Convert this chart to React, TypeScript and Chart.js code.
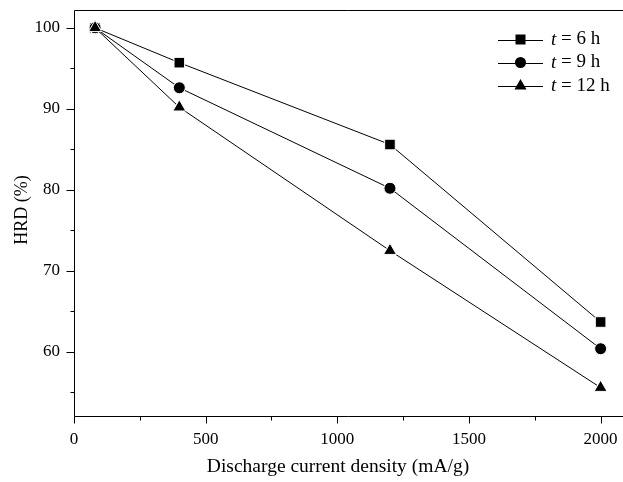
import React, { useEffect, useRef } from 'react';
import { Chart, registerables } from 'chart.js';

Chart.register(...registerables);

const currentDensity = [80, 400, 1200, 2000];
const hrd6h = [100, 95.7, 85.6, 63.7];
const hrd9h = [100, 92.6, 80.2, 60.4];
const hrd12h = [100, 90.2, 72.5, 55.6];
const seriesHours = ['6', '9', '12'];
const xMajorTicks = [0, 500, 1000, 1500, 2000];
const xMinorTicks = [250, 750, 1250, 1750];
const yMajorTicks = [60, 70, 80, 90, 100];
const yMinorTicks = [55, 65, 75, 85, 95];
const xTitle = 'Discharge current density (mA/g)';
const yTitle = 'HRD (%)';

const FONT = '"Liberation Serif", "Times New Roman", serif';
const pointStyles = ['rect', 'circle', 'triangle'];

function drawMarker(ctx: CanvasRenderingContext2D, style: string, x: number, y: number) {
  ctx.beginPath();
  if (style === 'rect') {
    ctx.rect(x - 5, y - 5, 10, 10);
  } else if (style === 'circle') {
    ctx.arc(x, y, 5.5, 0, Math.PI * 2);
  } else {
    const r = 7;
    ctx.moveTo(x, y - r);
    ctx.lineTo(x + r * Math.sin((2 * Math.PI) / 3), y - r * Math.cos((2 * Math.PI) / 3));
    ctx.lineTo(x + r * Math.sin((4 * Math.PI) / 3), y - r * Math.cos((4 * Math.PI) / 3));
    ctx.closePath();
  }
  ctx.fill();
}

const decorPlugin = {
  id: 'decor',
  afterDraw(chart: any) {
    const { ctx, chartArea: ca, scales } = chart;
    const x = scales.x;
    const y = scales.y;
    ctx.save();
    ctx.strokeStyle = '#000';
    ctx.fillStyle = '#000';
    ctx.lineWidth = 1;
    // frame: top, left, bottom
    ctx.beginPath();
    ctx.moveTo(Math.round(ca.left) + 0.5, Math.round(ca.top) + 0.5);
    ctx.lineTo(chart.width, Math.round(ca.top) + 0.5);
    ctx.moveTo(Math.round(ca.left) + 0.5, Math.round(ca.top) + 0.5);
    ctx.lineTo(Math.round(ca.left) + 0.5, Math.round(ca.bottom) + 0.5);
    ctx.lineTo(chart.width, Math.round(ca.bottom) + 0.5);
    ctx.stroke();
    // ticks
    ctx.beginPath();
    const bottom = Math.round(ca.bottom) + 0.5;
    xMajorTicks.forEach((v) => {
      const px = Math.round(x.getPixelForValue(v)) + 0.5;
      ctx.moveTo(px, bottom);
      ctx.lineTo(px, bottom + 7);
    });
    xMinorTicks.forEach((v) => {
      const px = Math.round(x.getPixelForValue(v)) + 0.5;
      ctx.moveTo(px, bottom);
      ctx.lineTo(px, bottom + 4);
    });
    const left = Math.round(ca.left) + 0.5;
    yMajorTicks.forEach((v) => {
      const py = Math.round(y.getPixelForValue(v)) + 0.5;
      ctx.moveTo(left, py);
      ctx.lineTo(left - 8, py);
    });
    yMinorTicks.forEach((v) => {
      const py = Math.round(y.getPixelForValue(v)) + 0.5;
      ctx.moveTo(left, py);
      ctx.lineTo(left - 4, py);
    });
    ctx.stroke();

    // axis titles
    ctx.textAlign = 'center';
    ctx.textBaseline = 'middle';
    ctx.font = `19.5px ${FONT}`;
    ctx.fillText(xTitle, 338, 467);
    ctx.font = `18px ${FONT}`;
    ctx.save();
    ctx.translate(22, (ca.top + ca.bottom) / 2 - 3);
    ctx.rotate(-Math.PI / 2);
    ctx.fillText(yTitle, 0, 0);
    ctx.restore();

    // legend
    const rows = [39.5, 62.5, 86];
    seriesHours.forEach((h, i) => {
      const ry = rows[i];
      ctx.beginPath();
      ctx.moveTo(498, Math.round(ry) + 0.5);
      ctx.lineTo(543, Math.round(ry) + 0.5);
      ctx.stroke();
      drawMarker(ctx, pointStyles[i], 520.5, ry);
      ctx.textAlign = 'left';
      ctx.textBaseline = 'middle';
      ctx.font = `italic 19px ${FONT}`;
      ctx.fillText('t', 551, ry);
      const tw = ctx.measureText('t').width;
      ctx.font = `19px ${FONT}`;
      ctx.fillText(` = ${h} h`, 551 + tw, ry);
    });
    ctx.restore();
  },
};

export default function App() {
  const ref = useRef<HTMLCanvasElement | null>(null);
  useEffect(() => {
    document.body.style.margin = '0';
    const canvas = ref.current;
    if (!canvas) return;
    const mk = (data: number[], i: number, r: number) => ({
      label: `t = ${seriesHours[i]} h`,
      data: currentDensity.map((xv, k) => ({ x: xv, y: data[k] })),
      borderColor: '#000',
      backgroundColor: '#000',
      borderWidth: 1,
      pointStyle: pointStyles[i],
      pointRadius: r,
      pointBackgroundColor: '#000',
      pointBorderColor: '#fff',
      pointBorderWidth: 1,
      order: 2 - i,
    });
    const chart = new Chart(canvas, {
      type: 'line',
      data: {
        datasets: [mk(hrd6h, 0, 7.5), mk(hrd9h, 1, 6), mk(hrd12h, 2, 7.5)],
      },
      options: {
        animation: false,
        responsive: false,
        devicePixelRatio: 1,
        layout: { autoPadding: false, padding: { top: 10, left: 0, right: 0, bottom: 0 } },
        plugins: { legend: { display: false }, tooltip: { enabled: false } },
        scales: {
          x: {
            type: 'linear',
            min: 0,
            max: 2085,
            grid: { display: false, drawTicks: false },
            border: { display: false },
            afterBuildTicks: (s: any) => {
              s.ticks = xMajorTicks.map((v) => ({ value: v }));
            },
            ticks: {
              color: '#000',
              padding: 13,
              maxRotation: 0,
              autoSkip: false,
              font: { family: FONT, size: 17 },
              callback: (v: any) => String(v),
            },
            afterFit: (s: any) => {
              s.height = 66;
              s.paddingLeft = 0;
              s.paddingRight = 0;
            },
          },
          y: {
            type: 'linear',
            min: 52.1,
            max: 102.2,
            grid: { display: false, drawTicks: false },
            border: { display: false },
            afterBuildTicks: (s: any) => {
              s.ticks = yMajorTicks.map((v) => ({ value: v }));
            },
            ticks: {
              color: '#000',
              padding: 14,
              autoSkip: false,
              font: { family: FONT, size: 17 },
              callback: (v: any) => String(v),
            },
            afterFit: (s: any) => {
              s.width = 74;
              s.paddingTop = 0;
              s.paddingBottom = 0;
            },
          },
        },
      },
      plugins: [decorPlugin],
    } as any);
    return () => chart.destroy();
  }, []);
  return (
    <div style={{ width: 623, height: 482, background: '#fff' }}>
      <canvas ref={ref} width={623} height={482} style={{ display: 'block' }} />
    </div>
  );
}
